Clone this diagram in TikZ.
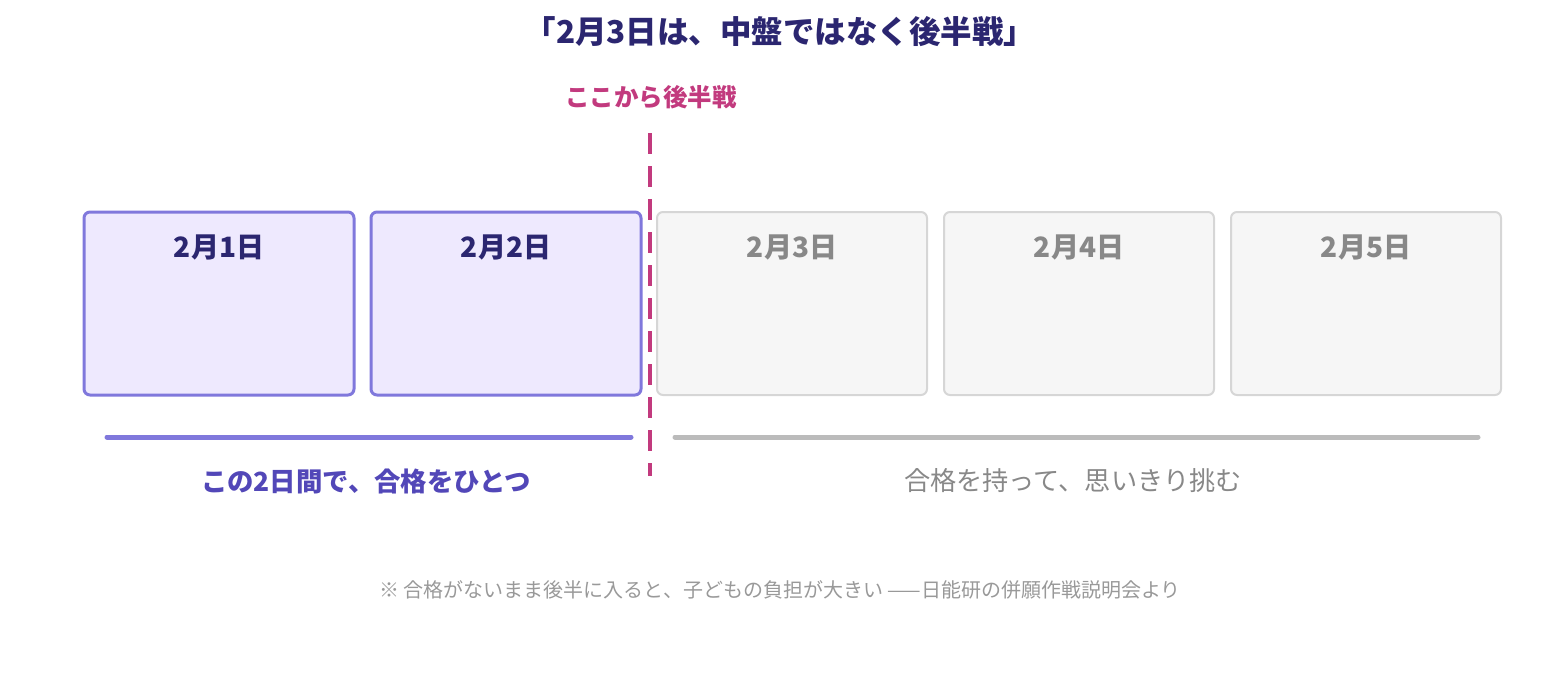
\documentclass[tikz,border=0pt]{standalone}
\usepackage{fontspec}
\setmainfont{Noto Sans CJK JP}
\definecolor{navy}{HTML}{2B2670}
\definecolor{pinkc}{HTML}{C23A7E}
\definecolor{purpb}{HTML}{8078DC}
\definecolor{purpf}{HTML}{EEE9FE}
\definecolor{purpt}{HTML}{5247B8}
\definecolor{greyb}{HTML}{D6D6D6}
\definecolor{greyf}{HTML}{F6F6F6}
\definecolor{greyt}{HTML}{888888}
\definecolor{greybar}{HTML}{BBBBBB}
\definecolor{foot}{HTML}{999999}
\tikzset{
  daybox/.style={rectangle, rounded corners=6pt, minimum width=270pt, minimum height=183pt, inner sep=0pt},
  dayon/.style={daybox, draw=purpb, fill=purpf, line width=3pt},
  dayoff/.style={daybox, draw=greyb, fill=greyf, line width=2pt},
  daylab/.style={font=\fontsize{28}{32}\selectfont\bfseries, inner sep=0pt, anchor=center},
  bar/.style={line width=5pt, line cap=round},
}
\begin{document}
\begin{tikzpicture}[x=1pt,y=-1pt]
\useasboundingbox (0,0) rectangle (1560,672);
\node[font=\fontsize{31.5}{36}\selectfont\bfseries, text=navy, inner sep=0pt] (title) at (780,32) {「2月3日は、中盤ではなく後半戦」};
\node[font=\fontsize{24.5}{28}\selectfont\bfseries, text=pinkc, inner sep=0pt] (turn) at (651,97) {ここから後半戦};
\node[dayon] (d1) at (219,303.5) {};
\node[dayon] (d2) at (506,303.5) {};
\node[dayoff] (d3) at (792,303.5) {};
\node[dayoff] (d4) at (1079,303.5) {};
\node[dayoff] (d5) at (1366,303.5) {};
\node[daylab, text=navy] (l1) at (219,247) {2月1日};
\node[daylab, text=navy] (l2) at (506,247) {2月2日};
\node[daylab, text=greyt] (l3) at (792,247) {2月3日};
\node[daylab, text=greyt] (l4) at (1079,247) {2月4日};
\node[daylab, text=greyt] (l5) at (1366,247) {2月5日};
\coordinate (dtop) at (650,133);
\coordinate (dbot) at (650,476);
\draw[pinkc, line width=3.5pt, dash pattern=on 21pt off 12pt] (dtop) -- (dbot);
\coordinate (pa) at (107,437);
\coordinate (pb) at (631,437);
\coordinate (ga) at (675,437);
\coordinate (gb) at (1478,437);
\draw[bar, purpb] (pa) -- (pb);
\draw[bar, greybar] (ga) -- (gb);
\node[font=\fontsize{26.4}{30}\selectfont\bfseries, text=purpt, inner sep=0pt] (left) at (366,481) {この2日間で、合格をひとつ};
\node[font=\fontsize{26.2}{30}\selectfont, text=greyt, inner sep=0pt] (right) at (1073,481) {合格を持って、思いきり挑む};
\node[font=\fontsize{20}{24}\selectfont, text=foot, inner sep=0pt] (note) at (780,590) {※ 合格がないまま後半に入ると、子どもの負担が大きい ——日能研の併願作戦説明会より};
\end{tikzpicture}
\end{document}
